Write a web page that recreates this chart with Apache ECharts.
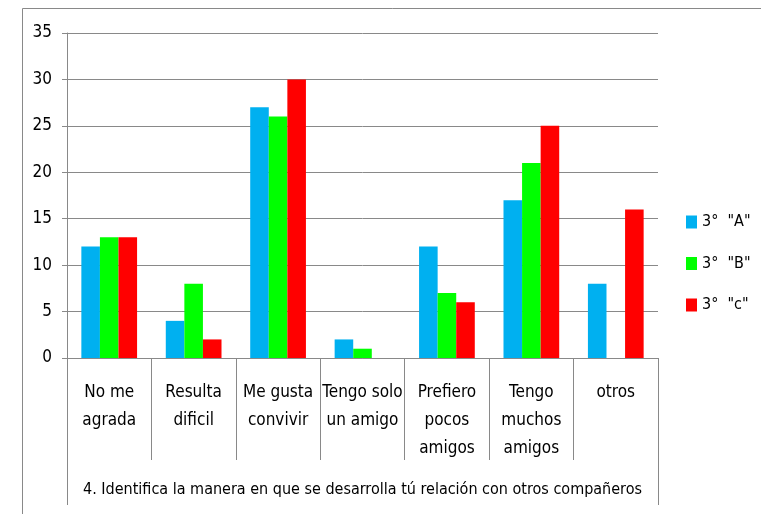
<!DOCTYPE html>
<html>
<head>
<meta charset="utf-8">
<script src="https://cdn.jsdelivr.net/npm/echarts@6/dist/echarts.min.js"></script>
<style>
  html, body { margin: 0; padding: 0; background: #fff; }
  #main { width: 761px; height: 514px; }
</style>
</head>
<body>
<div id="main"></div>
<script>
// datos del grafico
const categorias = ['No me\nagrada', 'Resulta\ndificil', 'Me gusta\nconvivir', 'Tengo solo\nun amigo',
  'Prefiero\npocos\namigos', 'Tengo\nmuchos\namigos', 'otros'];
const grupoA = [12, 4, 27, 2, 12, 17, 8];
const grupoB = [13, 8, 26, 1, 7, 21, 0];
const grupoC = [13, 2, 30, 0, 6, 25, 16];
const nombres = ['3°  "A"', '3°  "B"', '3°  "c"'];
const tituloX = '4. Identifica la manera en que se desarrolla tú relación con otros compañeros';

const fuente = '"Liberation Sans Narrow", "DejaVu Sans Condensed", "Open Sans", sans-serif';
const gris = '#898989';

const chart = echarts.init(document.getElementById('main'));

const option = {
  animation: false,
  textStyle: { fontFamily: fuente, color: '#000' },
  graphic: [{
    type: 'rect',
    shape: { x: 22.5, y: 8.5, width: 800, height: 600 },
    style: { fill: 'none', stroke: gris, lineWidth: 1 },
    silent: true
  }],
  legend: {
    orient: 'vertical',
    left: 686,
    top: 214,
    padding: 0,
    icon: 'rect',
    itemWidth: 11,
    itemHeight: 13,
    itemGap: 25.5,
    textStyle: { fontFamily: fuente, fontSize: 16, color: '#000' },
    data: nombres
  },
  grid: { left: 67, right: 103, top: 33, bottom: 156 },
  xAxis: [{
    type: 'category',
    data: categorias,
    axisLine: { show: true, lineStyle: { color: gris } },
    axisTick: { show: true, length: 102, lineStyle: { color: gris } },
    axisLabel: {
      interval: 0,
      margin: 21,
      fontSize: 17,
      lineHeight: 28,
      verticalAlign: 'top',
      color: '#000',
      fontFamily: fuente
    },
    name: tituloX,
    nameLocation: 'middle',
    nameGap: 124,
    nameTextStyle: { fontSize: 16, color: '#000', fontFamily: fuente }
  }, {
    // marco exterior de la tabla de categorias
    type: 'category',
    position: 'bottom',
    data: [''],
    axisLine: { show: false },
    axisTick: { show: true, length: 147, lineStyle: { color: gris } },
    axisLabel: { show: false }
  }],
  yAxis: {
    type: 'value',
    min: 0,
    max: 35,
    interval: 5,
    axisLine: { show: true, lineStyle: { color: gris } },
    axisTick: { show: true, length: 5, lineStyle: { color: gris } },
    splitLine: { lineStyle: { color: gris, width: 1 } },
    axisLabel: { fontSize: 17, margin: 15, color: '#000', fontFamily: fuente }
  },
  series: [
    { name: nombres[0], type: 'bar', data: grupoA, itemStyle: { color: '#00B0F0' }, barGap: '0%', barCategoryGap: '34%' },
    { name: nombres[1], type: 'bar', data: grupoB, itemStyle: { color: '#00FF00' }, barGap: '0%', barCategoryGap: '34%' },
    { name: nombres[2], type: 'bar', data: grupoC, itemStyle: { color: '#FF0000' }, barGap: '0%', barCategoryGap: '34%' }
  ]
};

chart.setOption(option);
</script>
</body>
</html>
